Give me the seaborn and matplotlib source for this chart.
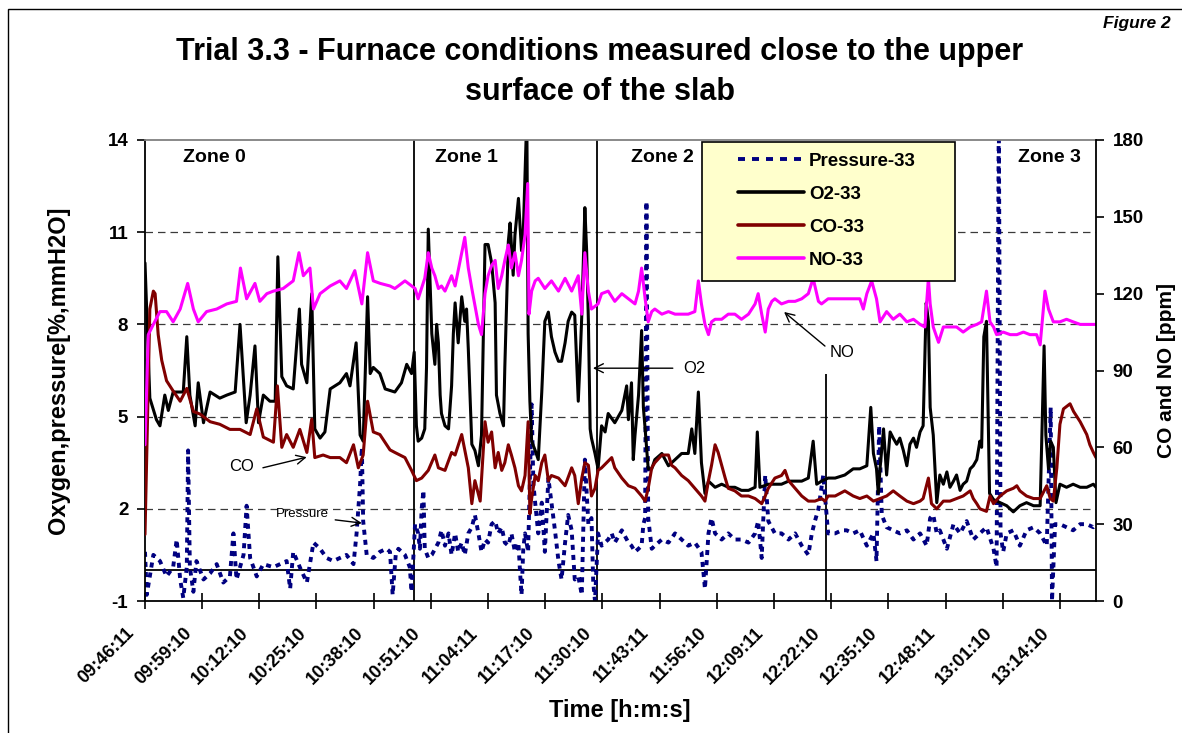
import matplotlib
matplotlib.use("Agg")
import matplotlib.pyplot as plt
import matplotlib.transforms as mtransforms
from matplotlib.lines import Line2D
from matplotlib.patches import Rectangle
import numpy as np
import pandas as pd
import seaborn as sns

# ---------------- data (time in minutes after 09:46:11) ----------------
tick_labels = ["09:46:11", "09:59:10", "10:12:10", "10:25:10", "10:38:10", "10:51:10",
               "11:04:11", "11:17:10", "11:30:10", "11:43:11", "11:56:10", "12:09:11",
               "12:22:10", "12:35:10", "12:48:11", "13:01:10", "13:14:10"]
t_end = 216.2

o2_t = [0.0, 1.1, 2.6, 3.4, 4.5, 5.3, 6.4, 8.7, 9.5, 10.2, 11.4, 12.1, 13.3, 14.8, 17.0, 18.6, 20.5,
        21.6, 23.0, 23.9, 25.0, 25.8, 26.9, 28.4, 29.6, 30.2, 31.1, 32.2, 33.7, 35.1, 35.6, 36.8, 37.9,
        38.6, 39.8, 40.9, 42.1, 44.3, 45.8, 46.6, 48.0, 48.9, 49.6, 50.6, 51.2, 51.9, 53.4,
        54.6, 56.8, 58.3, 59.5, 60.6, 61.2, 61.7, 62.1, 62.9, 63.6, 64.0, 64.4, 65.2, 65.9, 66.3, 66.7,
        67.1, 67.4, 68.2, 69.0, 69.7, 70.1, 70.5, 71.2, 72.0, 72.7, 73.1, 73.5, 74.3, 75.0, 75.8, 76.5,
        77.3, 78.0, 78.8, 79.6, 79.9, 80.7, 81.5, 81.8, 82.6, 83.0, 83.7, 84.1, 84.9, 85.6, 86.0, 86.8,
        87.1, 87.5, 87.9, 88.7, 89.4, 90.2, 90.9, 91.7, 92.4, 93.2, 94.0, 94.7, 95.5, 96.2, 97.0, 97.7,
        98.5, 98.9, 99.3, 100.0, 100.4, 100.8, 101.2, 101.5, 102.3, 103.0, 103.8,
        104.6, 105.3, 106.8, 108.4, 109.5, 109.9, 110.6, 111.0, 111.4, 112.2, 112.9, 113.3, 113.7,
        114.4, 115.2, 115.9, 117.5, 119.0, 120.5, 122.0, 123.5, 124.3, 125.0, 125.8, 126.5, 127.3,
        128.1, 129.6, 131.1, 132.6, 134.1, 135.6, 137.2, 138.7, 139.2, 139.8, 141.7, 143.2, 144.7,
        146.3, 147.8, 149.3, 150.8, 151.9, 152.7, 153.8, 155.3, 156.9, 159.1,
        161.0, 162.5, 164.1, 165.0, 165.6, 166.3, 166.7, 167.1, 167.9, 168.6, 169.4, 170.1, 170.9,
        171.6, 172.4, 173.2, 173.9, 174.7, 175.4, 176.2, 176.9, 177.6, 178.1, 178.5, 179.2, 180.0,
        180.7, 181.5, 182.3, 183.0, 183.8, 184.5, 185.3, 186.0, 186.8, 187.6, 188.3, 189.1, 189.8,
        190.2, 190.7, 191.3, 192.0, 192.9, 194.4, 195.9, 197.4, 198.9, 200.4, 202.0, 203.5, 204.4,
        204.8, 205.4, 205.9, 206.5, 207.1, 208.0, 209.5, 211.0, 212.6, 214.1, 215.6, 216.2]
o2_v = [10.0, 5.6, 4.9, 4.7, 5.7, 5.2, 5.8, 5.8, 7.6, 5.7, 4.7, 6.1, 4.8, 5.8, 5.6, 5.7, 5.8,
        8.0, 4.8, 5.7, 7.3, 4.8, 5.7, 5.5, 5.5, 10.2, 6.3, 6.0, 5.9, 8.5, 6.7, 6.1, 9.0,
        4.6, 4.3, 4.5, 5.9, 6.1, 6.4, 6.0, 7.4, 4.4, 4.2, 8.9, 6.4, 6.6, 6.4,
        5.9, 5.8, 6.1, 6.7, 6.4, 7.1, 4.7, 4.2, 4.3, 4.6, 6.6, 11.1, 7.7, 6.7, 8.0, 7.4,
        5.7, 5.1, 4.7, 4.6, 6.0, 7.7, 8.7, 7.4, 8.9, 8.1, 8.5, 7.2, 4.1, 3.9, 3.4, 4.4,
        10.6, 10.6, 10.0, 8.7, 5.7, 5.1, 4.7, 6.6, 10.7, 11.3, 9.6, 10.9, 12.1, 10.4, 11.0, 14.8,
        7.7, 5.5, 4.2, 3.9, 3.6, 5.8, 8.1, 8.4, 7.6, 7.1, 6.8, 6.8, 7.4, 8.1, 8.4, 8.3,
        5.5, 6.8, 8.3, 11.8, 10.4, 8.1, 4.6, 4.3, 3.8, 3.3, 4.7,
        4.5, 5.1, 4.8, 5.2, 6.0, 4.9, 6.1, 3.6, 4.4, 5.7, 7.8, 5.3, 4.6,
        3.3, 3.3, 3.6, 3.8, 3.4, 3.6, 3.8, 3.8, 4.6, 3.8, 5.8, 3.5, 2.5,
        2.9, 2.7, 2.8, 2.7, 2.7, 2.6, 2.6, 2.7, 4.5, 2.7, 2.8, 2.8, 2.8,
        2.9, 2.9, 2.9, 3.0, 4.2, 2.8, 2.9, 3.0, 3.0, 3.1,
        3.3, 3.3, 3.4, 5.3, 3.8, 3.3, 2.5, 3.3, 4.6, 3.1, 4.5, 4.3, 4.1,
        4.3, 3.9, 3.4, 4.1, 4.3, 4.0, 4.5, 4.7, 8.7, 8.1, 5.3, 4.4, 2.2,
        3.1, 2.8, 3.2, 2.7, 2.9, 3.1, 2.6, 2.8, 2.9, 3.3, 3.4, 3.6, 4.2,
        4.0, 7.6, 8.1, 2.5, 2.3, 2.2, 2.1, 1.9, 2.1, 2.2, 2.1, 2.1, 7.3,
        4.4, 3.3, 4.2, 4.0, 2.2, 2.8, 2.7, 2.8, 2.7, 2.7, 2.8, 2.7]

no_t = [0.0, 0.75, 1.9, 3.4, 4.9, 6.4, 8.0, 9.7, 11.0, 12.1, 14.0, 16.3, 18.6, 20.8, 21.7, 23.1,
        25.0, 26.1, 27.7, 29.2, 31.4, 33.7, 35.0, 36.0, 37.5, 38.3, 39.8, 42.1, 44.3, 45.8, 47.7,
        49.3, 50.6, 51.9, 53.5, 55.7,
        56.8, 59.1, 61.4, 62.1, 63.6, 64.4, 65.2, 65.9, 66.7, 67.4, 68.2, 69.7, 70.5, 71.2, 72.7,
        73.5, 74.3, 75.8, 76.5, 77.3, 78.0, 78.8, 79.6, 80.3, 81.1, 81.8, 82.6, 83.3, 84.1, 84.9,
        85.6, 86.4, 87.0, 87.3, 87.9, 88.7, 89.4, 90.9, 92.4, 94.0, 95.5, 97.0, 98.5, 99.3, 100.0,
        100.8, 101.5, 103.0,
        103.8, 105.3, 106.8, 108.4, 109.9, 111.4, 112.2, 112.9, 113.7, 114.4, 115.2, 115.9, 117.5,
        119.0, 120.5, 122.0, 123.5, 125.0, 125.8, 126.5, 127.3, 128.1, 128.8, 129.6, 131.1, 132.6,
        134.1, 135.6, 137.2, 138.7, 139.4, 140.2, 141.0, 141.7, 142.5, 143.2, 144.7, 146.3, 147.8,
        149.3, 150.8, 151.9, 153.1, 153.8, 155.3, 156.9, 159.1,
        161.0, 162.5, 163.3, 164.1, 165.2, 166.3, 167.1, 168.6, 170.1, 171.6, 173.2, 174.7, 176.2,
        177.3, 178.1, 178.5, 179.2, 180.4, 181.5, 183.0, 184.5, 186.0, 187.6, 189.1, 190.2, 191.3,
        192.1, 192.9, 193.6, 195.1, 196.7, 198.2, 199.7, 201.2, 202.7, 203.5, 204.6, 205.4, 206.5,
        208.0, 209.5, 211.0, 212.6, 214.1, 216.2]
no_v = [61, 104, 108, 113, 113, 109, 114, 124, 114, 109, 113, 114, 116, 117, 130, 118,
        124, 117, 120, 121, 122, 125, 136, 127, 130, 114, 120, 123, 125, 122, 129,
        116, 136, 125, 124, 123,
        122, 125, 122, 118, 126, 136, 130, 127, 122, 123, 121, 127, 123, 129, 142,
        130, 122, 108, 104, 120, 127, 131, 133, 122, 127, 133, 139, 130, 136, 127,
        133, 143, 163, 112, 121, 125, 126, 122, 125, 121, 126, 121, 127, 112, 136,
        121, 114, 116,
        120, 121, 117, 120, 118, 116, 121, 130, 118, 109, 113, 114, 112,
        113, 112, 112, 112, 113, 125, 116, 108, 104, 109, 110, 110, 112,
        112, 110, 112, 116, 120, 112, 105, 114, 117, 118, 116, 117, 117,
        118, 120, 126, 117, 116, 118, 118, 118,
        118, 118, 114, 120, 125, 118, 109, 113, 110, 112, 109, 110, 108,
        107, 126, 116, 107, 101, 107, 107, 107, 105, 107, 108, 109, 121,
        109, 107, 104, 105, 104, 104, 105, 104, 104, 100, 121, 114, 109,
        109, 110, 109, 108, 108, 108]

co_t = [0.0, 0.5, 1.1, 1.9, 2.3, 3.0, 3.8, 4.9, 6.4, 8.0, 9.5, 11.0, 12.5, 14.8, 17.0, 19.3, 21.6,
        23.9, 25.4, 26.9, 29.2, 30.1, 31.1, 32.2, 33.7, 35.2, 36.8, 37.9, 38.6, 40.5, 42.1, 44.3,
        45.8, 47.4, 48.5, 49.6, 50.6, 51.9, 53.4, 55.7,
        56.8, 59.1, 60.6, 61.7, 62.9, 64.4, 65.9, 66.7, 68.2, 69.7, 70.5, 72.0, 73.5, 74.3, 75.0,
        76.2, 77.3, 78.0, 78.8, 79.6, 80.3, 81.1, 81.8, 82.6, 83.3, 84.1, 84.9, 85.6, 86.4, 87.1,
        87.5, 87.9, 88.7, 89.4, 90.2, 90.9, 91.7, 92.4, 94.0, 95.5, 97.0, 97.7, 98.5, 99.3, 100.0,
        100.8, 101.5, 102.3, 103.0,
        103.8, 106.1, 106.8, 108.4, 109.9, 111.4, 112.9, 113.7, 114.4, 115.2, 115.9, 117.5, 119.0,
        119.7, 120.5, 122.0, 123.5, 125.0, 126.5, 127.3, 128.1, 128.8, 129.6, 130.3, 131.1, 131.9,
        132.6, 134.1, 135.6, 137.2, 138.7, 140.2, 141.0, 141.7, 143.2, 144.7, 145.5, 146.3, 147.8,
        149.3, 150.8, 152.3, 153.8, 154.6, 155.3, 156.9, 159.1,
        161.0, 162.5, 164.1, 165.6, 167.1, 168.6, 170.1, 171.6, 173.2, 174.7, 176.2, 176.9, 178.1,
        178.8, 180.0, 181.5, 183.0, 184.5, 186.0, 187.6, 188.3, 189.1, 189.8, 191.3, 192.1, 192.9,
        194.4, 195.9, 197.4, 198.2, 198.9, 200.4, 202.0, 203.5, 205.0, 205.8, 206.5, 207.3, 208.0,
        208.8, 210.3, 211.1, 212.6, 214.1, 214.8, 215.6, 216.2]
co_v = [26, 65, 114, 121, 120, 104, 94, 86, 82, 78, 83, 74, 73, 70, 69, 67, 67,
        65, 75, 64, 62, 84, 60, 65, 60, 67, 58, 71, 56, 57, 56, 56,
        54, 61, 52, 57, 78, 66, 65, 59,
        58, 56, 51, 47, 48, 51, 57, 52, 51, 58, 57, 65, 52, 38, 47,
        39, 70, 62, 66, 52, 58, 51, 54, 61, 57, 52, 45, 43, 49, 70,
        34, 40, 49, 47, 54, 57, 47, 49, 48, 45, 52, 49, 38, 48, 54,
        53, 41, 44, 51,
        52, 56, 52, 48, 45, 44, 41, 39, 44, 52, 54, 57, 57,
        53, 52, 49, 47, 44, 41, 39, 47, 53, 61, 58, 53, 48,
        44, 43, 41, 41, 40, 38, 41, 44, 48, 49, 51, 47, 44,
        41, 39, 39, 40, 39, 41, 41, 43,
        41, 40, 41, 39, 40, 41, 43, 41, 39, 38, 39, 40, 48,
        38, 36, 39, 39, 40, 41, 43, 40, 38, 36, 35, 41, 38,
        41, 43, 44, 45, 43, 41, 40, 40, 45, 40, 39, 52, 69,
        75, 77, 74, 70, 65, 61, 58, 56]

p_t = [0.0, 0.4, 1.9, 3.4, 4.9, 6.4, 7.2, 8.0, 8.7, 9.5, 9.8, 10.2, 11.0, 11.7, 13.3, 14.8, 16.3,
       17.8, 19.3, 20.1, 20.8, 21.6, 22.4, 23.1, 23.9, 25.4, 26.9, 29.2, 30.7, 32.2, 33.0, 33.7,
       35.2, 36.8, 38.3, 39.8, 41.3, 42.8, 44.3, 45.8, 47.4, 48.1, 48.9, 49.3, 49.6, 50.4, 51.9,
       53.4, 54.9, 55.7, 56.3, 57.0,
       57.6, 59.1, 60.2, 60.6, 61.4, 62.1, 62.5, 62.9, 63.3, 63.6, 64.4, 65.2, 66.7, 67.4, 68.2,
       69.0, 69.7, 70.5, 71.2, 72.0, 72.7, 73.5, 74.3, 75.0, 75.8, 76.5, 77.3, 78.0, 78.8, 79.6,
       80.3, 81.1, 81.8, 82.6, 83.3, 84.1, 84.9, 85.2, 85.6, 86.0, 86.4, 87.1, 87.9, 88.3, 88.7,
       89.4, 90.2, 90.9, 91.7, 92.4, 93.2, 94.0, 94.7, 95.5, 96.2, 97.0, 97.7, 98.5, 99.3, 100.0,
       100.8, 101.5, 101.9, 102.3, 103.0,
       103.8, 105.3, 106.1, 106.8, 108.4, 109.9, 110.6, 111.4, 112.2, 112.9, 113.3, 113.7, 114.0,
       114.4, 115.2, 115.9, 117.5, 119.0, 120.5, 122.0, 123.5, 125.0, 126.5, 127.3, 128.1, 128.8,
       129.6, 131.1, 132.6, 134.1, 135.6, 137.2, 138.7, 139.4, 140.2, 140.6, 141.0, 141.7, 143.2,
       144.7, 146.3, 147.8, 149.3, 150.8, 151.6, 152.3, 153.1, 153.8, 154.2, 155.3, 156.9, 158.4,
       159.5, 161.0, 162.5, 164.1, 165.6, 166.3, 166.9, 167.5, 168.6, 170.1, 171.6, 173.2, 174.7,
       176.2, 177.7, 178.5, 179.2, 180.0, 180.7, 182.3, 183.8, 185.3, 186.8, 188.3, 189.8, 191.3,
       192.9, 193.6, 194.1, 194.5, 195.1, 195.9, 197.4, 198.9, 200.4, 202.0, 203.5, 205.0, 205.9,
       206.2, 206.9, 208.0, 209.5, 211.0, 212.6, 214.1, 215.6, 216.2]
p_v = [0.6, -0.8, 0.5, 0.3, -0.2, 0.1, 1.0, -0.3, -0.9, 0.1, 3.9, 0.1, -0.7, 0.3, -0.3, -0.1, 0.2,
       -0.4, -0.2, 1.2, -0.3, 0.1, 0.5, 2.1, 0.4, -0.2, 0.2, 0.1, 0.2, 0.3, -0.6, 0.6,
       0.1, -0.4, 0.9, 0.7, 0.4, 0.3, 0.4, 0.5, 0.2, 1.2, 2.8, 4.0, 1.6, 0.5, 0.4,
       0.6, 0.7, 0.6, -0.8, 0.5,
       0.7, 0.5, 0.1, -0.7, 1.5, 1.2, 0.7, 2.0, 2.6, 0.7, 0.4, 0.5, 0.9, 1.3, 0.8,
       1.2, 0.5, 1.2, 0.6, 0.9, 0.5, 1.2, 1.4, 1.8, 1.2, 0.6, 1.0, 0.9, 1.5, 1.6,
       1.2, 1.4, 0.9, 0.8, 1.2, 0.6, 0.9, 0.1, -0.8, 0.7, 1.2, 0.6, 5.4, 2.8, 2.2,
       1.2, 2.2, 0.6, 3.0, 2.2, 1.3, 0.3, -0.3, 0.9, 1.8, 1.3, -0.3, -0.2, -0.8, 3.6,
       1.5, 1.7, -0.4, -1.0, 1.2,
       0.8, 1.0, 1.2, 0.9, 1.3, 0.9, 0.8, 0.6, 0.7, 0.8, 1.5, 1.7, 12.0,
       1.7, 0.7, 0.8, 1.0, 0.9, 1.2, 1.0, 0.8, 0.9, 0.6, -0.6, 1.2, 1.7,
       1.2, 1.0, 1.2, 1.0, 1.0, 0.9, 1.2, 1.6, 0.4, 1.8, 3.1, 1.6, 1.2,
       1.2, 1.0, 1.2, 0.8, 0.5, 1.2, 1.6, 2.0, 2.7, 3.1, 1.2, 1.2, 1.3,
       1.3, 1.2, 1.3, 0.8, 1.2, 0.3, 4.7, 1.8, 1.4, 1.3, 1.2, 1.3, 1.0,
       1.2, 0.8, 1.7, 1.8, 1.2, 1.3, 0.7, 1.5, 1.2, 1.6, 1.0, 1.2, 1.4,
       0.7, 0.1, 15.0, 1.2, 0.6, 1.2, 1.3, 0.8, 1.3, 1.4, 1.2, 0.8, 5.3,
       -1.0, 1.5, 1.5, 1.4, 1.3, 1.5, 1.5, 1.4, 1.5]

zone_names = ["Zone 0", "Zone 1", "Zone 2", "Zone 3"]
zone_bounds = [61.2, 102.7]          # full-height zone dividers (min)
partial_bound = (154.9, -1.0, 6.4)   # divider drawn only in lower part

series_names = ["Pressure-33", "O2-33", "CO-33", "NO-33"]
colors = {"Pressure-33": "#000080", "O2-33": "#000000", "CO-33": "#800000", "NO-33": "#FF00FF"}

# ---------------- style ----------------
sns.set_theme(style="white")
plt.rcParams["font.family"] = ["Liberation Sans", "DejaVu Sans"]
plt.rcParams["font.weight"] = "bold"
plt.rcParams["axes.labelweight"] = "bold"
plt.rcParams["text.color"] = "black"
plt.rcParams["axes.labelcolor"] = "black"
plt.rcParams["xtick.color"] = "black"
plt.rcParams["ytick.color"] = "black"
plt.rcParams["axes.unicode_minus"] = False

W, H = 1182, 733
fig = plt.figure(figsize=(W / 100, H / 100), dpi=100)
ax = fig.add_axes([145 / W, 1 - 601 / H, 951 / W, 461 / H])
ax2 = ax.twinx()

def to_min(s):
    h, m, sec = (int(v) for v in s.split(":"))
    return h * 60 + m + sec / 60.0

tick_pos = [to_min(s) - to_min(tick_labels[0]) for s in tick_labels]

df_p = pd.DataFrame({"t": p_t, "v": p_v})
df_o2 = pd.DataFrame({"t": o2_t, "v": o2_v})
df_co = pd.DataFrame({"t": co_t, "v": co_v})
df_no = pd.DataFrame({"t": no_t, "v": no_v})

sns.lineplot(data=df_p, x="t", y="v", ax=ax, color=colors["Pressure-33"], linewidth=2.8,
             estimator=None, sort=False, legend=False)
pline = ax.lines[-1]
pline.set_dashes([1.3, 1.3])
sns.lineplot(data=df_o2, x="t", y="v", ax=ax, color=colors["O2-33"], linewidth=2.2,
             estimator=None, sort=False, legend=False)
sns.lineplot(data=df_co, x="t", y="v", ax=ax2, color=colors["CO-33"], linewidth=2.2,
             estimator=None, sort=False, legend=False)
sns.lineplot(data=df_no, x="t", y="v", ax=ax2, color=colors["NO-33"], linewidth=2.2,
             estimator=None, sort=False, legend=False)

# axes ranges
ax.set_xlim(0, t_end)
ax.set_ylim(-1, 14)
ax2.set_ylim(0, 180)
ax.set_yticks([-1, 2, 5, 8, 11, 14])
ax2.set_yticks(list(range(0, 181, 30)))

# gridlines & reference lines
for yv in [2, 5, 8, 11]:
    ax.axhline(yv, color="#3a3a3a", lw=0.9, dashes=(6, 4), zorder=0.5)
ax.axhline(0, color="black", lw=1.3, zorder=0.6)
for xb in zone_bounds:
    ax.axvline(xb, color="black", lw=1.3, zorder=0.6)
ax.vlines(partial_bound[0], partial_bound[1], partial_bound[2], color="black", lw=1.3, zorder=0.6)

# spines
for s in ["left", "bottom"]:
    ax.spines[s].set_color("black"); ax.spines[s].set_linewidth(1.3)
ax.spines["top"].set_color("#808080"); ax.spines["top"].set_linewidth(1.3)
ax.spines["right"].set_visible(False)
for s in ["left", "top", "bottom"]:
    ax2.spines[s].set_visible(False)
ax2.spines["right"].set_color("black"); ax2.spines["right"].set_linewidth(1.3)

# ticks
ax.tick_params(axis="y", direction="out", length=6, width=1.2, color="black",
               labelcolor="black", labelsize=13.5, pad=6, left=True)
ax2.tick_params(axis="y", direction="out", length=6, width=1.2, color="black",
                labelcolor="black", labelsize=13.5, pad=6, right=True)
ax.set_xticks(tick_pos)
ax.set_xticklabels(tick_labels, rotation=45, ha="right", va="top", rotation_mode="anchor")
ax.tick_params(axis="x", direction="inout", length=12, width=1.2, color="black",
               labelcolor="black", labelsize=13, pad=11, bottom=True)
offset = mtransforms.ScaledTranslation(-19 / 100, 0, fig.dpi_scale_trans)
for lab in ax.get_xticklabels():
    lab.set_transform(lab.get_transform() + offset)

# axis labels
ax.set_xlabel("Time [h:m:s]", fontsize=17, fontweight="bold", color="black")
ax.xaxis.set_label_coords(0.4995, -0.213)
ax.set_ylabel("Oxygen,pressure[%,mmH2O]", fontsize=17, fontweight="bold", color="black")
ax.yaxis.set_label_coords(-0.079, 0.5)
ax2.set_ylabel("CO and NO [ppm]", fontsize=15, fontweight="bold", rotation=90, color="black")
ax2.yaxis.set_label_coords(1.064, 0.5)

# zone labels
for name, xf in zip(zone_names, [0.0726, 0.3375, 0.5436, 0.9506]):
    ax2.text(xf, 0.963, name, transform=ax2.transAxes, ha="center", va="center",
             fontsize=14, fontweight="bold", color="black", zorder=12)

# annotations
arrow_kw = dict(arrowstyle="->", color="black", lw=1.0, shrinkA=0, shrinkB=0,
                mutation_scale=16)
ann = [("CO", (0.102, 0.291), (0.124, 0.289), (0.170, 0.312), 12),
       ("Pressure", (0.166, 0.189), (0.200, 0.176), (0.228, 0.169), 9.5),
       ("O2", (0.578, 0.505), (0.555, 0.505), (0.471, 0.505), 12),
       ("NO", (0.733, 0.538), (0.715, 0.553), (0.672, 0.627), 12)]
for txt, pos, a0, a1, fs in ann:
    ax2.text(pos[0], pos[1], txt, transform=ax2.transAxes, ha="center", va="center",
             fontsize=fs, fontweight="normal", color="black", zorder=12)
    ax2.annotate("", xy=a1, xytext=a0, xycoords="axes fraction", textcoords="axes fraction",
                 arrowprops=arrow_kw, zorder=12)

# legend with pale-yellow box
box = Rectangle((0.5857, 0.6941), 0.266, 0.3015, transform=ax2.transAxes,
                facecolor="#FFFFCC", edgecolor="black", lw=1.2, zorder=10)
ax2.add_patch(box)
handles = []
for name in series_names:
    if name == "Pressure-33":
        h = Line2D([], [], color=colors[name], lw=2.8, dashes=[1.8, 1.8])
    else:
        h = Line2D([], [], color=colors[name], lw=2.6)
    handles.append(h)
leg = ax2.legend(handles, series_names, loc="upper left", bbox_to_anchor=(0.6235, 0.972),
                 bbox_transform=ax2.transAxes, frameon=False, fontsize=13.5,
                 handlelength=3.5, handletextpad=0.3, labelspacing=0.84,
                 borderpad=0, borderaxespad=0)
leg.set_zorder(11)
for t in leg.get_texts():
    t.set_fontweight("bold")
    t.set_color("black")

# title & figure tag
fig.text(0.5076, 1 - 60 / H, "Trial 3.3 - Furnace conditions measured close to the upper",
         ha="center", va="baseline", fontsize=22, fontweight="bold", color="black")
fig.text(0.5076, 1 - 100 / H, "surface of the slab", ha="center", va="baseline",
         fontsize=22, fontweight="bold", color="black")
fig.text(1103 / W, 1 - 28 / H, "Figure 2", ha="left", va="baseline", fontsize=12.5,
         fontweight="bold", fontstyle="italic", color="black")

# chart-area border
fig.patches.append(Rectangle((8 / W, -0.1), 1.2, 1 - 9 / H + 0.1, transform=fig.transFigure,
                             fill=False, edgecolor="black", lw=1.0, zorder=0))

fig.savefig("out.png", dpi=100)
